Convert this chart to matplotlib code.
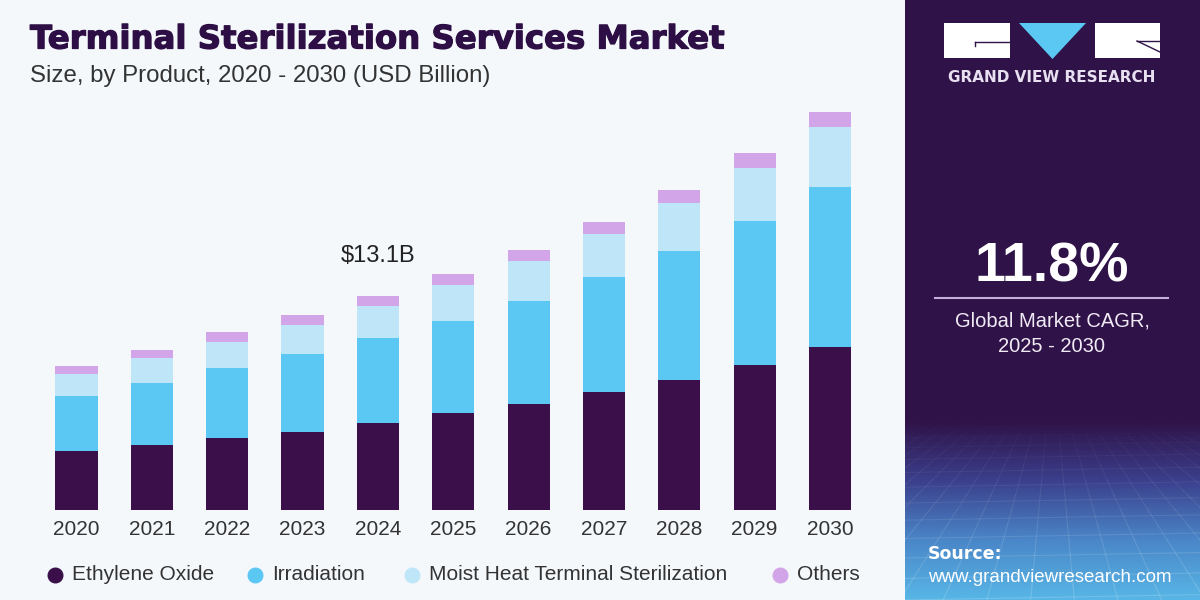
import numpy as np
import matplotlib
matplotlib.use("Agg")
import matplotlib.pyplot as plt
import matplotlib.patheffects as pe
from matplotlib.patches import Rectangle, Polygon
from matplotlib.colors import LinearSegmentedColormap

years = ["2020", "2021", "2022", "2023", "2024", "2025", "2026", "2027", "2028", "2029", "2030"]
ethylene_oxide = [3.61, 4.00, 4.43, 4.79, 5.34, 5.92, 6.47, 7.20, 7.96, 8.88, 9.96]
irradiation = [3.39, 3.80, 4.27, 4.74, 5.17, 5.67, 6.34, 7.04, 7.92, 8.81, 9.79]
moist_heat = [1.31, 1.53, 1.61, 1.79, 1.98, 2.19, 2.43, 2.63, 2.90, 3.23, 3.67]
others = [0.51, 0.47, 0.58, 0.59, 0.61, 0.65, 0.67, 0.77, 0.81, 0.92, 0.95]
series_names = ["Ethylene Oxide", "Irradiation", "Moist Heat Terminal Sterilization", "Others"]
series_colors = ["#3a0f4a", "#5bc8f4", "#bfe6f8", "#d2a4e8"]
annot_year = "2024"
annot_text = "$13.1B"
cagr_text = "11.8%"

W, H = 1200, 600
fig = plt.figure(figsize=(12, 6), dpi=100)
fig.patch.set_facecolor("#f5f8fb")

def fx(px):
    return px / W

def fy(py):
    return 1 - py / H

# right panel
panel_left = 905
fig.patches.append(Rectangle((fx(panel_left), 0), 1 - fx(panel_left), 1,
                             transform=fig.transFigure, facecolor="#2f1247",
                             edgecolor="none", zorder=-5))
# gradient bottom
gax = fig.add_axes([fx(panel_left), 0, 1 - fx(panel_left), 180 / H])
gax.set_zorder(-1)
grad = np.linspace(0, 1, 200).reshape(-1, 1)
cmap = LinearSegmentedColormap.from_list("g", ["#2f1247", "#3b3f8c", "#4a86c8", "#58b6e6"])
gax.imshow(grad, aspect="auto", cmap=cmap, origin="upper", extent=[0, 1, 0, 1])
# faint perspective grid, fading out towards the top
segs = 12
for k in np.linspace(-1.5, 2.5, 28):
    x0, x1 = 0.5 + (k - 0.5) * 0.25, k
    for s in range(segs):
        t0, t1 = s / segs, (s + 1) / segs
        gax.plot([x0 + (x1 - x0) * t0, x0 + (x1 - x0) * t1], [1 - t0, 1 - t1],
                 color="white", alpha=0.16 * t1, lw=0.8)
for t in np.linspace(0.08, 1, 13) ** 1.6:
    yv = 1 - t
    gax.plot([0, 1], [yv, yv + 0.03], color="white", alpha=0.16 * t, lw=0.8)
gax.set_xlim(0, 1)
gax.set_ylim(0, 1)
gax.axis("off")

# main axes
n = len(years)
x = np.arange(n)
px_per_unit = 16.336
base_py = 510
top_py = 95
ax = fig.add_axes([0, fy(base_py), fx(panel_left), (base_py - top_py) / H])
ax.patch.set_alpha(0)
ax.set_xlim(-76.5 / 75.35, (panel_left - 76.5) / 75.35)
ax.set_ylim(0, (base_py - top_py) / px_per_unit)
bottom = np.zeros(n)
for vals, col in zip([ethylene_oxide, irradiation, moist_heat, others], series_colors):
    ax.bar(x, vals, width=0.56, bottom=bottom, color=col, edgecolor="none", zorder=2)
    bottom += np.array(vals)
ax.axis("off")

ai = years.index(annot_year)
ax.text(ai, bottom[ai] + 1.75, annot_text, ha="center", va="bottom", fontsize=17,
        color="#222222", family="Liberation Sans")
for i, yr in enumerate(years):
    ax.text(i, -0.6, yr, ha="center", va="top", fontsize=15, color="#333333",
            family="Liberation Sans")

# title
fig.text(fx(30), fy(40), "Terminal Sterilization Services Market", fontsize=23.3,
         fontweight="heavy", color="#2e0f45", va="center", ha="left", family="DejaVu Sans",
         path_effects=[pe.withStroke(linewidth=0.9, foreground="#2e0f45")])
fig.text(fx(30), fy(76), "Size, by Product, 2020 - 2030 (USD Billion)", fontsize=17.3,
         color="#333333", va="center", ha="left", family="Liberation Sans")

# legend
leg_x = [55, 255, 412, 780]
for lx, name, col in zip(leg_x, series_names, series_colors):
    fig.lines.append(plt.Line2D([fx(lx)], [fy(575)], marker="o", markersize=10.5,
                                color=col, linestyle="none", transform=fig.transFigure))
    fig.text(fx(lx + 17), fy(575), name, fontsize=15, color="#333333", va="center",
             ha="left", family="Liberation Sans")

# logo
fig.patches.append(Rectangle((fx(944), fy(58)), fx(66), 35 / H, transform=fig.transFigure,
                             facecolor="white", edgecolor="none"))
fig.patches.append(Rectangle((fx(1095), fy(58)), fx(65), 35 / H, transform=fig.transFigure,
                             facecolor="white", edgecolor="none"))
fig.patches.append(Polygon([(fx(1019), fy(23)), (fx(1086), fy(23)), (fx(1052.5), fy(59))],
                           closed=True, transform=fig.transFigure, facecolor="#5bc8f4",
                           edgecolor="none"))
fig.lines.append(plt.Line2D([fx(975), fx(1010)], [fy(42), fy(42)], color="#2f1247", lw=1,
                            transform=fig.transFigure))
fig.lines.append(plt.Line2D([fx(975), fx(975)], [fy(42), fy(46)], color="#2f1247", lw=1,
                            transform=fig.transFigure))
fig.lines.append(plt.Line2D([fx(1137), fx(1160)], [fy(41), fy(52)], color="#2f1247", lw=1,
                            transform=fig.transFigure))
fig.lines.append(plt.Line2D([fx(1137), fx(1160)], [fy(41), fy(41)], color="#2f1247", lw=1,
                            transform=fig.transFigure))
fig.text(fx(1052), fy(78), "GRAND VIEW RESEARCH", fontsize=11, fontweight="bold",
         color="#e8e0f0", ha="center", va="center", family="DejaVu Sans")

# CAGR
fig.text(fx(1052), fy(267), cagr_text, fontsize=40, fontweight="bold", color="white",
         ha="center", va="center", family="Liberation Sans")
fig.lines.append(plt.Line2D([fx(935), fx(1168)], [fy(298), fy(298)], color="#c3afd9", lw=1.5,
                            transform=fig.transFigure))
fig.text(fx(1052), fy(321), "Global Market CAGR,", fontsize=14.5, color="#f0eaf5",
         ha="center", va="center", family="Liberation Sans")
fig.text(fx(1052), fy(347), "2025 - 2030", fontsize=14.5, color="#f0eaf5",
         ha="center", va="center", family="Liberation Sans")

# source
fig.text(fx(928), fy(554), "Source:", fontsize=12.5, fontweight="bold", color="white",
         ha="left", va="center", family="DejaVu Sans")
fig.text(fx(928), fy(577), "www.grandviewresearch.com", fontsize=13.5, color="white",
         ha="left", va="center", family="Liberation Sans")

fig.savefig("out.png", dpi=100, facecolor=fig.get_facecolor())
